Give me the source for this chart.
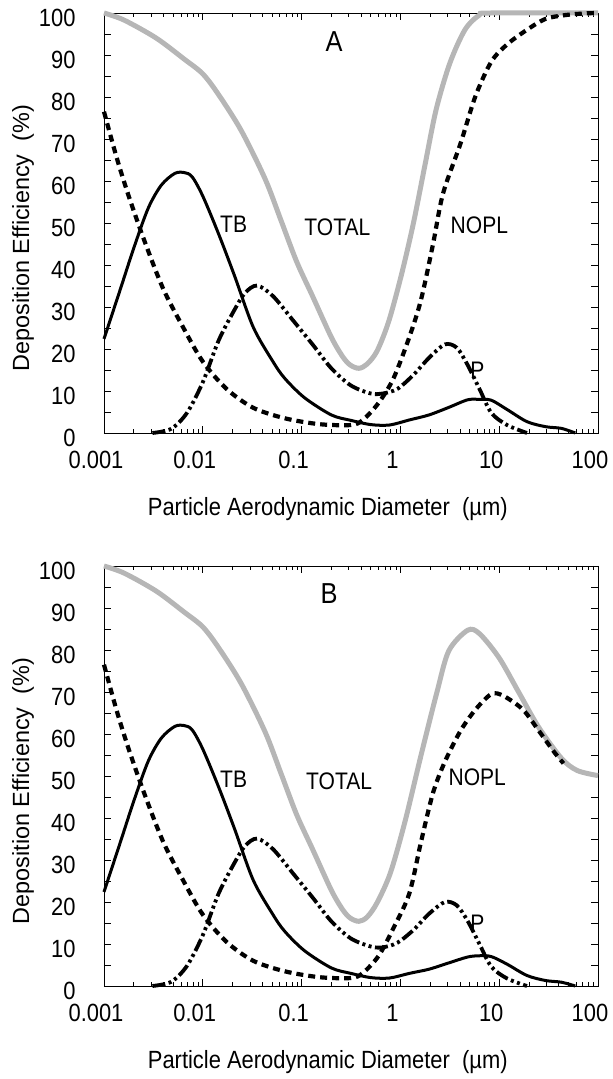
\documentclass[border=0pt]{standalone}
\usepackage{fontspec}
\setmainfont{Liberation Sans}[FakeStretch=0.88]
\newfontfamily\ylfont{Liberation Sans}
\usepackage{pgfplots}
\pgfplotsset{compat=1.18}
\definecolor{totalgray}{RGB}{182,182,182}

\newcommand{\depoopts}{
    scale only axis, width=494bp, height=420bp,
    xmode=log, xmin=0.001, xmax=100, ymin=0, ymax=100,
    xtick={0.001,0.01,0.1,1,10,100},
    xticklabels={0.001,0.01,0.1,1,10,100},
    minor xtick={0.002,0.003,0.004,0.005,0.006,0.007,0.008,0.009,
                 0.02,0.03,0.04,0.05,0.06,0.07,0.08,0.09,
                 0.2,0.3,0.4,0.5,0.6,0.7,0.8,0.9,
                 2,3,4,5,6,7,8,9,20,30,40,50,60,70,80,90},
    ytick={0,5,...,100},
    yticklabels={0,,10,,20,,30,,40,,50,,60,,70,,80,,90,,100},
    tick align=inside, major tick length=7bp, minor tick length=4bp,
    every tick/.style={black, line width=0.7bp},
    axis line style={line width=0.8bp},
    tick label style={font=\fontsize{25}{28}\selectfont},
    yticklabel style={xshift=-25bp, yshift=-5bp},
    xticklabel style={xshift=-8bp, yshift=-15bp},
    xlabel={Particle Aerodynamic Diameter~ (\textmu m)},
    ylabel={Deposition Efficiency~ (\%)},
    xlabel style={font=\fontsize{25}{28}\selectfont, at={(axis description cs:0.453,-0.181)}, anchor=center},
    ylabel style={font=\fontsize{23.5}{28}\ylfont, at={(axis description cs:-0.164,0.464)}, anchor=center},
    clip=false}

\tikzset{
  crvtotal/.style={color=totalgray, line width=5bp, smooth},
  crvtb/.style={black, line width=3bp, smooth},
  crvnopl/.style={black, line width=4.2bp, dash pattern=on 7bp off 5bp, smooth},
  crvp/.style={black, line width=3.8bp, dash pattern=on 13bp off 3.5bp on 3bp off 3.5bp on 3bp off 3.5bp, smooth},
  lbl/.style={font=\fontsize{24}{28}\selectfont, anchor=center},
  bigl/.style={font=\fontsize{29}{32}\selectfont, anchor=center},
}

\begin{document}
\begin{tikzpicture}
\useasboundingbox (0,0) rectangle (613bp,1079bp);

% panel A
\expandafter\def\expandafter\optsA\expandafter{\depoopts, at={(104bp,646bp)}, anchor=south west}
\expandafter\begin\expandafter{\expandafter a\expandafter x\expandafter i\expandafter s\expandafter}\expandafter[\optsA]
\addplot[crvtotal] coordinates {
(0.001,100)(0.0016,98.3)(0.00339,94)(0.0065,89)(0.01,85.5)(0.0145,80.5)(0.0245,72)(0.0427,60.5)
(0.0617,50.7)(0.0891,40.8)(0.129,32.6)(0.2,22.8)(0.26,18.2)(0.31,16.2)(0.38,15.4)(0.46,16.4)
(0.58,19.5)(0.76,26.5)(1.02,37.5)(1.35,49.8)(1.78,64)(2.3,77)(3.16,88)(4.5,96)
(6.3,99.5)(8.32,100)(100,100)};
\addplot[crvnopl] coordinates {
(0.001,76.5)(0.00135,65.4)(0.00178,56.4)(0.00257,45.7)(0.00398,34.3)(0.00631,25.2)
(0.01,17)(0.0174,10.5)(0.0324,6)(0.0676,3.5)(0.151,2.1)(0.316,1.9)(0.417,3.1)
(0.603,7.2)(0.851,13)(1.23,22.8)(1.62,31.8)(2.14,45)(2.7,57)(4.07,69)(5.75,80.2)
(8.32,88.4)(12,92.5)(19.1,96)(29.5,98.6)(46.8,99.5)(74.1,99.9)(100,100)};
\addplot[crvp] coordinates {
(0.00309,0)(0.00479,1)(0.00692,4.8)(0.01,12.1)(0.01445,22)(0.0209,29.3)(0.0269,33.4)
(0.0355,35.1)(0.0513,32.6)(0.0813,26.9)(0.129,21.1)(0.2,15.4)(0.316,11.3)(0.501,9.4)
(0.661,9.4)(0.933,10.5)(1.35,13.8)(1.95,17.9)(2.82,21.1)(3.72,20.3)(4.79,16.2)
(6.31,10.5)(8.32,4.8)(12,1.9)(19.1,0)};
\addplot[crvtb] coordinates {
(0.001,22.4)(0.0015,35)(0.002,44)(0.0028,53.5)(0.0038,59)(0.0052,61.8)(0.0065,62)
(0.0078,61)(0.01,56.4)(0.01445,47.4)(0.0209,37.5)(0.0324,25.2)(0.0513,17)
(0.0676,13)(0.107,8.4)(0.2,4.3)(0.316,3)(0.501,2.0)(0.776,1.9)(1.23,3.1)(1.95,4.3)
(3.09,6.1)(4.79,7.9)(6.31,8.0)(8.32,7.8)(12,5.6)(19.1,2.7)(29.5,1.5)(42.7,1.1)(58.9,0)};
\node[bigl] at (axis cs:0.213,93.1) {A};
\node[lbl] at (axis cs:0.0205,49.8) {TB};
\node[lbl] at (axis cs:0.23,49) {TOTAL};
\node[lbl] at (axis cs:6.3,49.4) {NOPL};
\node[lbl] at (axis cs:6.0,15) {P};
\end{axis}

% panel B
\expandafter\def\expandafter\optsB\expandafter{\depoopts, at={(104bp,93bp)}, anchor=south west}
\expandafter\begin\expandafter{\expandafter a\expandafter x\expandafter i\expandafter s\expandafter}\expandafter[\optsB]
\addplot[crvtotal] coordinates {
(0.001,100)(0.0016,98.3)(0.00339,94)(0.0065,89)(0.01,85.5)(0.0145,80.5)(0.0245,72)(0.0427,60.5)
(0.0617,50.7)(0.0891,40.8)(0.129,32.6)(0.2,22.8)(0.26,18.2)(0.31,16.2)(0.38,15.4)(0.46,16.4)
(0.58,19.8)(0.794,27)(1.12,39.4)(1.62,55)(2.34,69.9)(3.09,79.8)(4.79,84.7)(6.31,83.9)
(10,78.1)(15.8,69.9)(25.1,61.6)(42.7,54.2)(61.7,51.3)(100,50.1)};
\addplot[crvnopl] coordinates {
(0.001,76.5)(0.00135,65.4)(0.00178,56.4)(0.00257,45.7)(0.00398,34.3)(0.00631,25.2)
(0.01,17)(0.0174,10.5)(0.0324,6)(0.0676,3.5)(0.151,2.1)(0.316,1.9)(0.417,3.1)
(0.603,7.2)(0.851,13.8)(1.23,22)(1.62,34.4)(2.14,46)(2.82,53.4)(4.07,60.8)(5.75,65.8)
(8.32,69.5)(11,69.1)(17.4,65.8)(25.1,60.8)(35.5,55.9)(44.7,53)};
\addplot[crvp] coordinates {
(0.00309,0)(0.00479,1)(0.00692,4.8)(0.01,12.1)(0.01445,22)(0.0209,29.3)(0.0269,33.4)
(0.0355,35.1)(0.0513,32.6)(0.0813,26.9)(0.129,21.1)(0.2,15.4)(0.316,11.3)(0.501,9.4)
(0.661,9.2)(0.933,10.3)(1.35,13.3)(1.95,17.2)(2.82,20)(3.72,19.2)(4.79,15.5)
(6.31,10)(8.32,4.6)(12,1.8)(19.1,0)};
\addplot[crvtb] coordinates {
(0.001,22.4)(0.0015,35)(0.002,44)(0.0028,53.5)(0.0038,59)(0.0052,61.8)(0.0065,62)
(0.0078,61)(0.01,56.4)(0.01445,47.4)(0.0209,37.5)(0.0324,25.2)(0.0513,17)
(0.0676,13)(0.107,8.4)(0.2,4.3)(0.316,3)(0.501,2.0)(0.776,1.9)(1.23,3.0)(1.95,4.0)
(3.09,5.5)(4.79,6.9)(6.31,7.2)(8.32,7.0)(12,5.2)(19.1,2.5)(29.5,1.3)(42.7,0.9)(58.9,0)};
\node[bigl] at (axis cs:0.19,93.4) {B};
\node[lbl] at (axis cs:0.0205,49.3) {TB};
\node[lbl] at (axis cs:0.24,48.8) {TOTAL};
\node[lbl] at (axis cs:6.0,49.7) {NOPL};
\node[lbl] at (axis cs:6.0,15) {P};
\end{axis}
\end{tikzpicture}
\end{document}
